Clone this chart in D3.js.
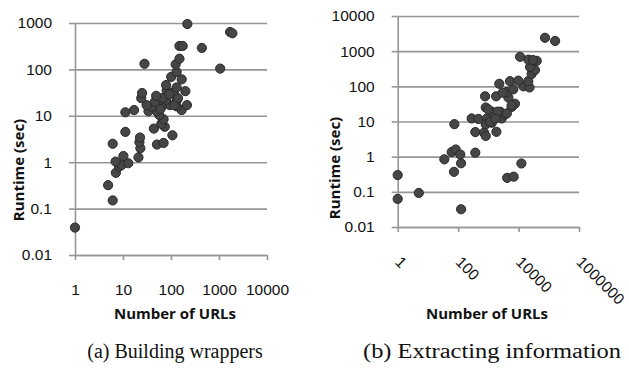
<!DOCTYPE html>
<html>
<head>
<meta charset="utf-8">
<script src="https://cdn.jsdelivr.net/npm/d3@7"></script>
<style>
  body { margin: 0; background: #fff; }
</style>
</head>
<body>
<script>
// (a) building wrappers
const wrapUrls = [1, 4.9, 6.1, 7.1, 8.3, 9.4, 12.9, 7.0, 10.2, 21,
  23, 22, 6.1, 51, 70, 22.6, 107, 11.2, 44, 74,
  63, 70, 57, 11.2, 17, 167, 50, 34, 65, 40,
  215, 131, 95, 46, 31, 133, 79, 66, 49, 24,
  25, 114, 81, 199, 131, 79, 167, 101, 131, 1060,
  125, 28, 150, 440, 150, 175, 219, 1700, 1900, 60,
  118, 92, 140];
const wrapRuntime = [0.039, 0.32, 0.15, 0.59, 0.80, 0.87, 0.95, 1.03, 1.36, 1.27,
  2.0, 2.7, 2.5, 2.4, 2.6, 3.4, 3.8, 4.5, 5.3, 5.8,
  6.7, 8.4, 10.4, 11.9, 13.3, 13.3, 12.6, 12.6, 16, 15.7,
  17, 16, 17, 20, 17, 22, 22, 24, 27, 24,
  31, 32, 35, 34, 41, 46, 61, 69, 88, 104,
  128, 132, 170, 290, 320, 320, 950, 640, 600, 14,
  17, 29, 24];

// (b) extracting information
const extractUrls = [1, 1, 5, 125, 35, 61, 83, 118, 125, 73,
  370, 4200, 6900, 12400, 75, 370, 720, 820, 1850, 280,
  470, 890, 1300, 820, 1140, 2770, 3550, 2450, 1300, 820,
  5900, 7600, 780, 1800, 4600, 4100, 6700, 14500, 23000, 2300,
  5200, 9800, 21000, 27000, 35000, 24000, 11200, 21000, 40000, 30000,
  75000, 162000, 4100, 5900, 1000, 2000, 3000, 1700];
const extractRuntime = [0.30, 0.063, 0.093, 0.032, 0.84, 1.35, 1.6, 1.15, 0.65, 0.37,
  1.3, 0.25, 0.27, 0.64, 8.4, 5.0, 4.8, 3.9, 5.1, 12.2,
  11.8, 12.2, 9.2, 8.3, 9.8, 12.2, 16, 19, 19, 25,
  26, 32, 52, 52, 48, 69, 82, 100, 93, 118,
  140, 145, 140, 225, 290, 355, 690, 575, 530, 560,
  2400, 1950, 17, 29, 22, 19, 66, 12];

const wrapXTicks = ["1", "10", "100", "1000", "10000"];
const wrapYTicks = ["0.01", "0.1", "1", "10", "100", "1000"];
const extractXTicks = ["1", "100", "10000", "1000000"];
const extractYTicks = ["0.01", "0.1", "1", "10", "100", "1000", "10000"];

const xTitle = "Number of URLs";
const yTitle = "Runtime (sec)";
const captions = ["(a) Building wrappers", "(b) Extracting information"];

const width = 629, height = 373;
const gridColor = "#969696";
const tickFont = "'Liberation Sans', Arial, sans-serif";
const titleFont = "'Open Sans', sans-serif";

const svg = d3.select("body").append("svg")
  .attr("width", width)
  .attr("height", height)
  .attr("viewBox", [0, 0, width, height]);

function panel(cfg) {
  const xVals = cfg.xTicks.map(Number);
  const yVals = cfg.yTicks.map(Number);
  const x = d3.scaleLog().domain(d3.extent(xVals)).range(cfg.xRange);
  const y = d3.scaleLog().domain(d3.extent(yVals)).range(cfg.yRange);
  const [x0, x1] = cfg.xRange;
  const [yb] = cfg.yRange;

  // horizontal grid
  svg.append("g")
    .attr("transform", `translate(${x0},0)`)
    .call(d3.axisLeft(y).tickValues(yVals).tickSize(-(x1 - x0)).tickFormat(""))
    .call(g => g.select(".domain").remove())
    .call(g => g.selectAll(".tick line").attr("stroke", gridColor).attr("stroke-width", 1.6));

  // y axis
  svg.append("g")
    .attr("transform", `translate(${x0},0)`)
    .call(d3.axisLeft(y).tickValues(yVals).tickSize(6).tickSizeOuter(0).tickPadding(17)
      .tickFormat((d, i) => cfg.yTicks[i]))
    .call(g => g.select(".domain").attr("stroke", gridColor).attr("stroke-width", 1.6))
    .call(g => g.selectAll(".tick line").attr("stroke", gridColor).attr("stroke-width", 1.6))
    .call(g => g.selectAll("text")
      .attr("fill", "#111")
      .attr("font-family", tickFont)
      .attr("font-size", 15.5));

  // x axis
  const xAxis = svg.append("g")
    .attr("transform", `translate(0,${yb})`)
    .call(d3.axisBottom(x).tickValues(xVals).tickSize(5).tickSizeOuter(0).tickPadding(24)
      .tickFormat((d, i) => cfg.xTicks[i]))
    .call(g => g.select(".domain").attr("stroke", gridColor).attr("stroke-width", 1.6))
    .call(g => g.selectAll(".tick line").attr("stroke", gridColor).attr("stroke-width", 1.6))
    .call(g => g.selectAll("text")
      .attr("fill", "#111")
      .attr("font-family", tickFont)
      .attr("font-size", 15.5));

  if (cfg.rotate) {
    xAxis.selectAll("text")
      .attr("text-anchor", "start")
      .attr("y", 0)
      .attr("dy", 0)
      .attr("transform", "translate(-4,36) rotate(45)");
  }

  svg.append("g")
    .selectAll("circle")
    .data(cfg.xs.map((v, i) => [v, cfg.ys[i]]))
    .join("circle")
    .attr("cx", d => x(d[0]))
    .attr("cy", d => y(d[1]))
    .attr("r", 4.6)
    .attr("fill", "#464646")
    .attr("stroke", "#2a2a2a")
    .attr("stroke-width", 1);

  svg.append("text")
    .attr("transform", `translate(${cfg.yTitlePos[0]},${cfg.yTitlePos[1]}) rotate(-90)`)
    .attr("text-anchor", "middle")
    .attr("dy", "0.35em")
    .attr("font-family", titleFont)
    .attr("font-weight", 700)
    .attr("font-size", 15)
    .attr("fill", "#111")
    .text(yTitle);

  svg.append("text")
    .attr("x", cfg.xTitlePos[0])
    .attr("y", cfg.xTitlePos[1])
    .attr("text-anchor", "middle")
    .attr("font-family", titleFont)
    .attr("font-weight", 700)
    .attr("font-size", 15)
    .attr("fill", "#111")
    .text(xTitle);

  const cap = svg.append("text")
    .attr("x", cfg.captionPos[0])
    .attr("y", cfg.captionPos[1])
    .attr("text-anchor", "middle")
    .attr("font-family", "'Liberation Serif', 'Times New Roman', serif")
    .attr("font-size", 20)
    .attr("fill", "#111")
    .text(cfg.caption);
  if (cfg.captionWidth) {
    cap.attr("textLength", cfg.captionWidth).attr("lengthAdjust", "spacingAndGlyphs");
  }
}

panel({
  xs: wrapUrls, ys: wrapRuntime,
  xTicks: wrapXTicks, yTicks: wrapYTicks,
  xRange: [75, 267], yRange: [255, 23],
  rotate: false,
  yTitlePos: [19, 170], xTitlePos: [175, 319],
  captionPos: [175, 358], caption: captions[0]
});

panel({
  xs: extractUrls, ys: extractRuntime,
  xTicks: extractXTicks, yTicks: extractYTicks,
  xRange: [397.7, 579], yRange: [227, 16],
  rotate: true,
  yTitlePos: [335, 168], xTitlePos: [487, 319],
  captionPos: [492, 358], caption: captions[1], captionWidth: 258
});
</script>
</body>
</html>
